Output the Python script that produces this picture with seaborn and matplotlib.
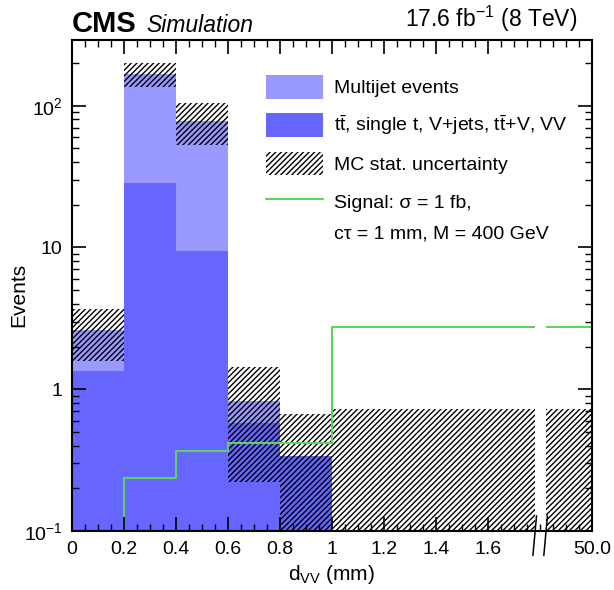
import numpy as np
import pandas as pd
import matplotlib
matplotlib.use("Agg")
import matplotlib.pyplot as plt
import seaborn as sns
from matplotlib.patches import Patch
from matplotlib.lines import Line2D
from matplotlib.ticker import NullFormatter, LogLocator

# d_VV bins in mm; the last bin (1 - 50 mm) is squeezed into 1.0 - 2.0 on the axis
bin_edges = [0.0, 0.2, 0.4, 0.6, 0.8, 1.0, 2.0]
multijet = [1.28, 138.0, 69.0, 0.25, 0.0, 0.0]
ttbar_other = [1.35, 28.7, 9.4, 0.58, 0.34, 0.0]
mc_stat_err = [1.05, 32.0, 26.0, 0.61, 0.33, 0.73]
signal = [0.0, 0.235, 0.364, 0.42, 0.42, 2.75]

xtick_pos = [0.0, 0.2, 0.4, 0.6, 0.8, 1.0, 1.2, 1.4, 1.6, 2.0]
xtick_labels = ['0', '0.2', '0.4', '0.6', '0.8', '1', '1.2', '1.4', '1.6', '50.0']
ytick_pos = [0.1, 1, 10, 100]
ytick_labels = [r'$10^{-1}$', '1', '10', r'$10^{2}$']

c_multijet = '#9999ff'
c_ttbar = '#6666ff'
c_signal = '#5dd35d'

sns.set_theme(style='ticks')
plt.rcParams['font.family'] = ['Liberation Sans', 'DejaVu Sans']
plt.rcParams['mathtext.fontset'] = 'custom'
plt.rcParams['mathtext.rm'] = 'Liberation Sans'
plt.rcParams['mathtext.it'] = 'Liberation Sans:italic'
plt.rcParams['mathtext.bf'] = 'Liberation Sans:bold'
plt.rcParams['hatch.linewidth'] = 1.0
plt.rcParams['hatch.color'] = 'black'
for key in ['text.color', 'axes.labelcolor', 'xtick.color', 'ytick.color', 'axes.edgecolor']:
    plt.rcParams[key] = 'black'

edges = np.array(bin_edges)
centers = 0.5 * (edges[:-1] + edges[1:])
widths = np.diff(edges)

df = pd.DataFrame({'dvv': centers, 'multijet': multijet, 'ttbar': ttbar_other,
                   'err': mc_stat_err, 'signal': signal})
df['total'] = df['multijet'] + df['ttbar']
df['err_lo'] = np.clip(df['total'] - df['err'], 1e-3, None)
df['err_hi'] = df['total'] + df['err']

fig, ax = plt.subplots(figsize=(6.14, 5.9), dpi=100)
fig.subplots_adjust(left=0.1173, right=0.964, bottom=0.1, top=0.932)
ax.set_yscale('log')

# stacked backgrounds: total first, then the lower component on top of it
sns.histplot(data=df, x='dvv', weights='total', bins=bin_edges, color=c_multijet,
             alpha=1, linewidth=0, ax=ax)
sns.histplot(data=df, x='dvv', weights='ttbar', bins=bin_edges, color=c_ttbar,
             alpha=1, linewidth=0, ax=ax)

# MC stat uncertainty band
hatch = '//////'
ax.bar(edges[:-1], df['err_hi'] - df['err_lo'], bottom=df['err_lo'], width=widths,
       align='edge', fill=False, hatch=hatch, edgecolor='black', linewidth=0, zorder=1.5)

# signal
sns.histplot(data=df, x='dvv', weights='signal', bins=bin_edges, element='step',
             fill=False, color=c_signal, linewidth=1.5, ax=ax)

# axis break between 1.6 and 50 mm
gap_lo, gap_hi = 1.78, 1.822
ax.axvspan(gap_lo, gap_hi, color='white', lw=0, zorder=2.2)
trans = ax.get_xaxis_transform()
for xb in (gap_lo, gap_hi):
    ax.plot([xb + 0.007, xb - 0.007], [0.031, -0.05], color='black', lw=1.1,
            transform=trans, clip_on=False, zorder=3)

ax.set_xlim(0, 2.0)
ax.set_ylim(0.1, 290)
ax.set_axisbelow(False)

ax.set_xticks(xtick_pos, labels=xtick_labels)
minor_x = [m for m in np.round(np.arange(0, 2.0001, 0.05), 2) if m not in xtick_pos]
ax.set_xticks(minor_x, minor=True)
ax.set_yticks(ytick_pos, labels=ytick_labels)
ax.yaxis.set_minor_locator(LogLocator(base=10, subs=np.arange(2, 10)))
ax.yaxis.set_minor_formatter(NullFormatter())

ax.tick_params(which='both', direction='in', top=True, right=True, labelsize=14,
               color='black', labelcolor='black')
ax.tick_params(which='major', length=10, width=1.2)
ax.tick_params(which='minor', length=5, width=1.0)
ax.tick_params(axis='x', which='major', pad=7)
ax.tick_params(axis='y', which='major', pad=7)
for sp in ax.spines.values():
    sp.set_linewidth(1.5)
    sp.set_color('black')

ax.set_xlabel(r'$\mathrm{d_{VV}}$ (mm)', fontsize=15, labelpad=4)
ax.set_ylabel('Events', fontsize=15)
ax.yaxis.set_label_coords(-0.085, 0.48)

handles = [
    Patch(facecolor=c_multijet, edgecolor='none', label='Multijet events'),
    Patch(facecolor=c_ttbar, edgecolor='none',
          label=r'$\mathrm{t\bar{t}}$, single t, V+jets, $\mathrm{t\bar{t}}$+V, VV'),
    Patch(facecolor='none', edgecolor='black', hatch=hatch, linewidth=0,
          label='MC stat. uncertainty'),
    Line2D([], [], color=c_signal, lw=1.5, label='Signal: σ = 1 fb,'),
]
ax.legend(handles=handles, loc='upper left', bbox_to_anchor=(266 / 614, 1 - 75 / 590),
          bbox_transform=fig.transFigure, frameon=False, fontsize=14,
          handlelength=2.95, handleheight=1.5, handletextpad=0.55,
          labelspacing=0.74, borderpad=0, borderaxespad=0)
fig.text(334 / 614, 1 - 238 / 590, 'cτ = 1 mm, M = 400 GeV', fontsize=14, va='baseline')

fig.text(72 / 614, 1 - 32 / 590, 'CMS', fontsize=21, fontweight='bold', va='baseline')
fig.text(146 / 614, 1 - 32 / 590, 'Simulation', fontsize=16.5, style='italic', va='baseline')
fig.text(577 / 614, 1 - 27 / 590, r'17.6 fb$^{\mathrm{-1}}$ (8 TeV)', fontsize=16.5,
         ha='right', va='baseline')

fig.savefig('out.png', dpi=100)
